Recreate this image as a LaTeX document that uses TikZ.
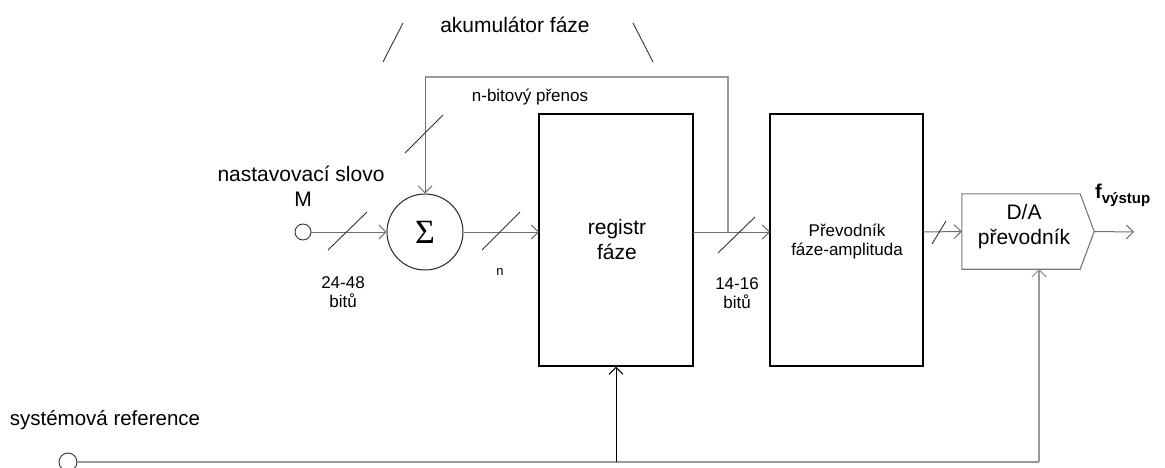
\documentclass[tikz,border=0pt]{standalone}
\usepackage{fontspec}
\setmainfont{Liberation Sans}
\newfontfamily\sigmafont{Liberation Serif}
\usetikzlibrary{arrows.meta,calc}
\definecolor{linegray}{HTML}{6E6E6E}
\definecolor{lightgray}{HTML}{999999}
\definecolor{boxgray}{HTML}{777777}
\begin{document}
\begin{tikzpicture}[x=1pt,y=-1pt,
  conn/.style={draw=linegray,line width=1pt,-{Straight Barb[length=7pt,width=14pt]}},
  fbline/.style={draw=lightgray,line width=1.2pt},
  slashmark/.style={draw=black!80,line width=0.9pt},
  blockbox/.style={draw=black,line width=1.3pt,inner sep=0pt},
  port/.style={circle,draw=black!80,line width=0.9pt,minimum size=16pt,inner sep=0pt},
  lbl/.style={inner sep=0pt,align=center},
  bigt/.style={lbl,font=\fontsize{21}{25}\selectfont},
  midt/.style={lbl,font=\fontsize{17}{19}\selectfont}]
\useasboundingbox (0,0) rectangle (1165,468);
% blocks
\node[port] (in) at (303,232) {};
\node[circle,draw=black!85,line width=1pt,minimum size=76pt,inner sep=0pt] (sum) at (425,232) {};
\node[lbl,font=\sigmafont\fontsize{34}{34}\selectfont] (sig) at (sum.center) {Σ};
\node[blockbox,minimum width=154pt,minimum height=252pt] (reg) at (616,240) {};
\node[blockbox,minimum width=153pt,minimum height=252pt] (conv) at (846.5,240) {};
\node[inner sep=0pt,minimum width=132pt,minimum height=75pt] (da) at (1028,231.5) {};
\draw[draw=boxgray,line width=1.1pt] (da.north west) -- ($(da.north east)+(-14,0)$) -- (da.east) -- ($(da.south east)+(-14,0)$) -- (da.south west) -- cycle;
\node[port,minimum size=18pt] (ref) at (68,462) {};
% helper coordinates
\coordinate (regin) at (539,232);
\coordinate (regout) at (693,232);
\coordinate (fb) at (728,232);
\coordinate (fbR) at (728,77);
\coordinate (fbL) at (425,77);
\coordinate (convin) at (770,232);
\coordinate (convout) at (923,232);
\coordinate (out) at (1134,232);
\coordinate (daB) at (1039,269);
\coordinate (corner) at (1039,462);
\coordinate (branch) at (616,462);
% connectors
\draw[conn] (in.east) -- (sum.west);
\draw[conn] (sum.east) -- (regin);
\draw[conn] (regout) -- (convin);
\draw[fbline] (fb) -- (fbR) -- (fbL);
\draw[conn] (fbL) -- (sum.north);
\draw[conn] (convout) -- (da.west);
\draw[conn] (da.east) -- (out);
\draw[fbline] (ref.east) -- (corner);
\draw[conn,draw=lightgray,line width=1.2pt] (corner) -- (daB);
\draw[conn,draw=black] (branch) -- (reg.south);
% slashes
\draw[slashmark] (328,250) -- (367,212);
\draw[slashmark] (482,250) -- (520,212);
\draw[slashmark] (405,153) -- (443,115);
\draw[slashmark] (718,253) -- (755,217);
\draw[slashmark] (932,244) -- (946,221);
\draw[slashmark] (383,62) -- (403,23);
\draw[slashmark] (633,23) -- (653,62);
% texts
\node[bigt] (tacc) at (515,25) {akumulátor fáze};
\node[midt] (tcarry) at (530,97) {n-bitový přenos};
\node[bigt] (tword) at (301,174) {nastavovací slovo};
\node[bigt] (tM) at (303,199) {M};
\node[midt] (tbits1) at (343,292) {24-48\\bitů};
\node[lbl,font=\fontsize{13}{15}\selectfont] (tn) at (500,272) {n};
\node[bigt] (treg) at (617,239) {registr\\fáze};
\node[midt] (tbits2) at (737,293) {14-16\\bitů};
\node[midt] (tconv) at (847,242) {Převodník\\fáze-amplituda};
\node[bigt] (tda) at (1024,227) {D/A\\převodník};
\node[lbl,anchor=west,font=\bfseries\fontsize{20}{24}\selectfont] (tout) at (1095,195) {f\raisebox{-5pt}{\fontsize{15}{18}\selectfont výstup}};
\node[lbl,font=\fontsize{20.5}{24}\selectfont] (tref) at (105,420) {systémová reference};
\end{tikzpicture}
\end{document}
